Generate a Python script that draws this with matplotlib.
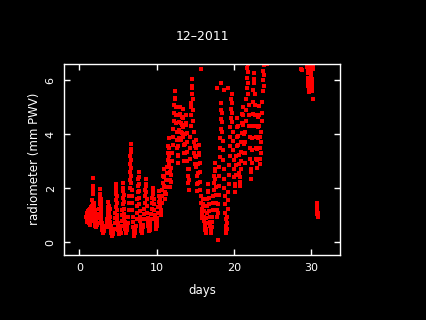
import matplotlib
matplotlib.use("Agg")
import matplotlib.pyplot as plt

# (day, PWV mm) readings, grouped by period
week1 = [(0.90,0.95),(0.93,1.05),(0.96,0.85),(0.99,1.10),(1.02,0.90),(1.05,0.75),(1.08,1.00),(1.11,1.15),
         (1.14,0.95),(1.17,0.80),(1.20,0.70),(1.23,0.90),(1.26,1.20),(1.29,1.05),(1.32,0.85),(1.35,0.65),
         (1.38,0.75),(1.41,1.00),(1.44,1.25),(1.47,1.10),(1.50,0.90),(1.53,1.30),(1.56,1.15),(1.59,0.95),
         (1.62,0.80),(1.65,1.05),(1.68,1.35),(1.70,1.55),(1.71,1.80),(1.72,1.95),(1.73,2.10),(1.74,2.39),
         (1.75,2.00),(1.76,1.85),(1.78,1.45),(1.80,1.20),(1.83,1.00),(1.86,0.85),(1.89,1.10),(1.92,1.30),
         (1.95,1.45),(1.98,1.20),(2.01,0.95),(2.04,0.75),(2.07,0.60),(2.10,0.55),(2.13,0.70),(2.16,0.90),
         (2.19,1.05),(2.22,0.85),(2.25,0.65),
         (2.45,0.70),(2.50,0.90),(2.55,1.05),(2.58,1.25),(2.61,1.40),(2.64,1.55),(2.67,1.70),(2.70,1.96),
         (2.72,1.80),(2.74,1.60),(2.76,1.45),(2.78,1.30),(2.80,1.15),(2.82,1.00),(2.85,0.85),(2.88,0.70),
         (2.92,0.55),(2.96,0.45),(3.00,0.40),(3.05,0.35),(3.10,0.45),(3.15,0.60),(3.20,0.50),(3.25,0.40),
         (3.55,0.55),(3.60,0.70),(3.63,0.85),(3.66,1.00),(3.69,1.15),(3.72,1.30),(3.75,1.50),(3.78,1.35),
         (3.81,1.20),(3.84,1.05),(3.87,0.90),(3.90,1.10),(3.93,1.25),(3.96,0.95),(4.00,0.75),(4.04,0.60),
         (4.08,0.45),(4.13,0.35),(4.18,0.28),(4.23,0.25),(4.28,0.30),(4.33,0.40),(4.38,0.32),
         (4.55,0.50),(4.60,0.70),(4.63,0.90),(4.66,1.10),(4.69,1.30),(4.72,1.55),(4.75,1.80),(4.76,2.00),
         (4.77,2.16),(4.79,1.95),(4.81,1.70),(4.83,1.45),(4.86,1.20),(4.89,1.00),(4.92,0.85),(4.95,0.70),
         (4.99,0.60),(5.04,0.45),(5.09,0.35),(5.14,0.30),(5.19,0.40),(5.24,0.55),(5.29,0.45),(5.34,0.35),
         (5.45,0.60),(5.50,0.80),(5.53,1.00),(5.56,1.20),(5.59,1.40),(5.62,1.65),(5.65,1.90),(5.68,2.18),
         (5.70,2.00),(5.72,1.75),(5.75,1.50),(5.78,1.25),(5.81,1.05),(5.84,0.90),(5.88,0.75),(5.92,0.60),
         (5.97,0.50),(6.02,0.40),(6.07,0.35),(6.12,0.45),(6.17,0.60),(6.22,0.50),
         (6.30,0.70),(6.35,0.95),(6.40,1.20),(6.44,1.45),(6.47,1.70),(6.50,2.00),(6.53,2.30),(6.56,2.60),
         (6.58,2.90),(6.60,3.20),(6.62,3.45),(6.64,3.63),(6.66,3.35),(6.68,3.05),(6.70,2.75),(6.72,2.45),
         (6.74,2.20),(6.76,1.95),(6.79,1.70),(6.82,1.45),(6.85,1.20),(6.88,0.95),(6.92,0.75),(6.96,0.55),
         (7.01,0.40),(7.06,0.30),(7.11,0.25),(7.16,0.35),(7.21,0.50),(7.26,0.40),
         (7.35,0.60),(7.40,0.85),(7.44,1.10),(7.48,1.35),(7.52,1.60),(7.56,1.85),(7.60,2.10),(7.63,2.35),
         (7.66,2.60),(7.68,2.40),(7.70,2.15),(7.72,1.90),(7.75,1.65),(7.78,1.40),(7.81,1.15),(7.84,0.95),
         (7.88,0.80),(7.92,0.65),(7.97,0.50),(8.02,0.40),(8.07,0.35),(8.12,0.45),(8.17,0.55)]

week2 = [(8.25,0.65),(8.30,0.85),(8.35,1.05),(8.40,1.25),(8.45,1.45),(8.50,1.70),(8.55,1.95),(8.58,2.15),
         (8.62,2.34),(8.65,2.10),(8.68,1.85),(8.72,1.60),(8.76,1.35),(8.80,1.10),(8.84,0.90),(8.88,0.75),
         (8.93,0.60),(8.98,0.50),(9.03,0.40),(9.08,0.45),(9.13,0.60),(9.18,0.75),
         (9.25,0.85),(9.30,1.05),(9.35,1.25),(9.40,1.45),(9.45,1.65),(9.50,1.85),(9.55,2.02),(9.58,1.80),
         (9.62,1.60),(9.66,1.40),(9.70,1.20),(9.75,1.00),(9.80,0.85),(9.85,0.70),(9.90,0.55),(9.95,0.50),
         (10.00,0.60),(10.05,0.75),
         (10.10,0.90),(10.15,1.10),(10.20,1.30),(10.25,1.50),(10.30,1.70),(10.35,1.90),(10.40,1.60),
         (10.45,1.35),(10.50,1.15),(10.55,1.00),(10.60,1.20),(10.65,1.45),(10.70,1.70),(10.75,1.95),
         (10.80,2.20),(10.85,2.45),(10.90,2.70),(10.95,2.40),(11.00,2.10),(11.05,1.85),(11.10,1.60),
         (11.15,1.80),(11.20,2.05),(11.25,2.30),(11.30,2.55),(11.35,2.80),(11.40,3.05),(11.45,3.30),
         (11.50,3.55),(11.53,3.85),(11.56,3.50),(11.60,3.20),(11.64,2.90),(11.68,2.60),(11.72,2.30),
         (11.76,2.05),(11.80,2.25),(11.85,2.50),(11.90,2.75),(11.95,3.00),
         (12.00,3.30),(12.05,3.60),(12.10,3.90),(12.15,4.20),(12.20,4.50),(12.25,4.80),(12.30,5.10),
         (12.35,5.35),(12.40,5.61),(12.43,5.30),(12.46,5.00),(12.50,4.70),(12.54,4.40),(12.58,4.10),
         (12.62,3.80),(12.66,3.50),(12.70,3.20),(12.74,2.95),(12.78,3.25),(12.82,3.55),(12.86,3.85),
         (12.90,4.15),(12.94,4.45),(12.98,4.75),(13.02,5.00),(13.06,4.70),(13.10,4.40),(13.14,4.10),
         (13.18,3.80),(13.22,4.05),(13.26,4.35),(13.30,4.65),(13.34,4.95),(13.38,4.60),(13.42,4.25),
         (13.46,3.90),(13.50,3.60),(13.54,3.30),(13.58,3.00),(13.62,3.30),(13.66,3.65),(13.70,4.00),
         (13.74,4.35),(13.78,4.70),(13.82,4.40),(13.86,4.05),(13.90,3.70),(13.94,3.35),(13.98,3.00),
         (14.02,2.70),(14.06,2.45),(14.10,2.20),(14.14,1.95)]

week3 = [(14.18,2.30),(14.22,2.70),(14.26,3.10),(14.30,3.50),(14.34,3.90),(14.38,4.30),(14.42,4.70),
         (14.46,5.00),(14.50,5.15),(14.54,5.50),(14.57,5.80),(14.60,6.05),(14.63,5.70),(14.66,5.30),
         (14.70,4.90),(14.74,4.50),(14.78,4.10),(14.82,3.70),(14.86,3.30),(14.90,2.90),(14.94,3.20),
         (14.98,3.55),(15.02,3.80),(15.06,3.50),(15.10,3.15),(15.14,2.80),(15.18,2.45),(15.22,2.15),
         (15.26,1.90),(15.30,2.20),(15.34,2.55),(15.38,2.90),(15.42,3.25),(15.46,3.60),(15.50,3.30),
         (15.54,2.95),(15.58,2.60),(15.62,2.25),(15.66,1.95),(15.70,1.70),(15.74,1.45),(15.76,6.40),
         (15.80,1.25),(15.84,1.05),(15.88,0.90),(15.92,1.10),(15.96,1.35),(16.00,1.60),(16.04,1.40),
         (16.08,1.15),(16.12,0.95),(16.16,0.80),(16.20,0.65),(16.24,0.55),(16.28,0.45),(16.32,0.35),
         (16.36,0.50),(16.40,0.70),
         (16.44,0.90),(16.48,1.10),(16.52,1.35),(16.56,1.60),(16.60,1.85),(16.64,2.15),(16.68,1.90),
         (16.72,1.65),(16.76,1.40),(16.80,1.15),(16.84,0.95),(16.88,0.75),(16.92,0.60),(16.96,0.45),
         (17.00,0.35),(17.05,0.40),(17.10,0.55),(17.15,0.75),(17.20,0.95),(17.24,1.20),(17.28,1.45),
         (17.32,1.70),(17.36,1.95),(17.40,2.20),(17.44,2.45),(17.48,2.70),(17.52,2.95),(17.56,2.65),
         (17.60,2.35),(17.64,2.05),(17.68,1.75),(17.72,1.45),(17.76,1.20),(17.80,5.70),
         (17.84,0.95),(17.88,0.09),(17.92,1.10),(17.96,1.40),(18.00,1.75),(18.04,2.10),(18.08,2.45),
         (18.12,2.80),(18.16,3.15),(18.20,3.50),(18.24,3.85),(18.28,4.20),(18.30,5.90),(18.32,4.55),
         (18.36,4.90),(18.38,5.15),(18.42,4.80),(18.46,4.45),(18.50,4.10),(18.54,3.75),(18.58,3.40),
         (18.62,3.05),(18.66,2.70),(18.70,2.35),(18.74,2.00),(18.75,5.64),(18.78,1.70),(18.82,1.40),
         (18.86,1.10),(18.90,0.85),(18.94,0.60),(18.98,0.45),(19.02,0.35),
         (19.06,0.50),(19.10,0.70),(19.14,0.95),(19.18,1.25),(19.22,1.55),(19.25,5.70),(19.26,1.85),
         (19.30,2.15),(19.34,2.50),(19.38,2.85),(19.42,3.20),(19.46,3.55),(19.50,3.90),(19.54,4.25),
         (19.58,4.60),(19.62,4.95),(19.66,5.30),(19.68,5.50),(19.72,5.15),(19.76,4.80),(19.80,4.45),
         (19.84,4.10),(19.88,3.75),(19.92,3.40),(19.96,3.05),(20.00,2.70),(20.04,2.40),(20.08,2.10),
         (20.12,1.85),(20.16,2.15),(20.20,2.50),(20.24,2.85),(20.28,3.20),(20.32,3.55),(20.36,3.90),
         (20.40,4.25),(20.44,4.60),(20.48,4.30),(20.52,3.95),(20.56,3.60),(20.60,3.25),(20.64,2.90),
         (20.68,2.55),(20.72,2.25)]

week4 = [(20.76,2.10),(20.80,2.40),(20.84,2.70),(20.88,3.00),(20.92,3.35),(20.96,3.70),(21.00,4.05),
         (21.04,4.40),(21.08,4.75),(21.12,5.00),(21.16,4.70),(21.20,4.35),(21.24,4.00),(21.28,3.65),
         (21.32,3.30),(21.36,2.95),(21.40,3.30),(21.44,3.70),(21.48,4.10),(21.52,4.50),(21.56,4.90),
         (21.60,5.30),(21.64,5.70),(21.68,6.10),(21.72,6.45),(21.75,6.60),(21.78,6.30),(21.82,5.90),
         (21.86,5.50),(21.90,5.10),(21.94,4.70),(21.98,4.30),(22.02,3.90),(22.06,3.50),(22.10,3.10),
         (22.14,2.70),(22.18,2.35),(22.22,2.60),(22.26,2.95),(22.30,3.40),(22.34,3.85),(22.38,4.30),
         (22.42,4.75),(22.46,5.20),(22.50,5.65),(22.54,6.05),(22.58,6.25),(22.62,5.90),(22.66,5.50),
         (22.70,5.10),(22.74,4.70),(22.78,4.30),(22.82,3.90),(22.86,3.50),(22.90,3.10),(22.94,2.75),
         (22.98,3.05),(23.02,3.45),(23.06,3.85),(23.10,4.25),(23.14,4.65),(23.18,5.05),(23.22,4.70),
         (23.26,4.30),(23.30,3.90),(23.34,3.50),(23.38,3.10),(23.42,2.90),(23.46,3.30),(23.50,3.70),
         (23.54,4.10),(23.58,4.50),(23.62,4.80),(23.66,5.20),(23.70,5.60),(23.74,6.00),(23.78,6.35),
         (23.82,6.55),(23.86,6.20),(23.90,5.80),(24.10,6.60),(24.30,6.60)]

week5 = [(28.60,6.40),(28.75,6.38),
         (29.40,6.60),(29.45,6.50),(29.50,6.40),(29.55,6.25),(29.58,6.10),(29.60,5.95),(29.62,5.80),
         (29.64,5.65),(29.66,5.55),(29.70,5.75),(29.74,6.00),(29.78,6.25),(29.82,6.45),(29.86,6.60),
         (29.90,6.50),(29.94,6.35),(29.98,6.20),(30.02,6.05),(30.06,5.90),(30.10,5.75),(30.14,5.60),
         (30.18,5.30),(30.22,6.40),(30.26,6.55),
         (30.70,1.45),(30.72,1.35),(30.74,1.25),(30.76,1.15),(30.78,1.05),(30.80,0.95),(30.82,1.00),
         (30.84,1.10)]

x_ticks = [0, 10, 20, 30]
y_ticks = [0, 2, 4, 6]
title = "12\u20132011"

fig = plt.figure(figsize=(4.26, 3.2), dpi=100, facecolor="black")
ax = fig.add_axes([64/426, 1-255/320, 276/426, 191/320], facecolor="black")

for period in (week1, week2, week3, week4, week5):
    d = [p[0] for p in period]
    v = [p[1] for p in period]
    ax.plot(d, v, linestyle="none", marker="s", markersize=2.7,
            markeredgewidth=0, color="#ff0000", clip_on=True)

ax.set_xlim(-1.98, 33.7)
ax.set_ylim(-0.47, 6.6)
ax.set_xticks(x_ticks)
ax.set_yticks(y_ticks)
for s in ax.spines.values():
    s.set_color("white")
    s.set_linewidth(1.0)
ax.tick_params(which="both", direction="in", length=4, width=1, color="white",
               labelcolor="white", labelsize=8, top=True, right=True)
ax.tick_params(axis="x", pad=6)
ax.tick_params(axis="y", pad=6, labelrotation=90)
for lab in ax.get_yticklabels():
    lab.set_va("center")

fig.text(202/426, 1-36/320, title, color="white", fontsize=9, ha="center", va="center")
fig.text(202/426, 1-290.5/320, "days", color="white", fontsize=8.5, ha="center", va="center")
fig.text(35/426, 1-158.5/320, "radiometer (mm PWV)", color="white", fontsize=8.5,
         ha="center", va="center", rotation=90)

fig.savefig("out.png", dpi=100, facecolor="black")
